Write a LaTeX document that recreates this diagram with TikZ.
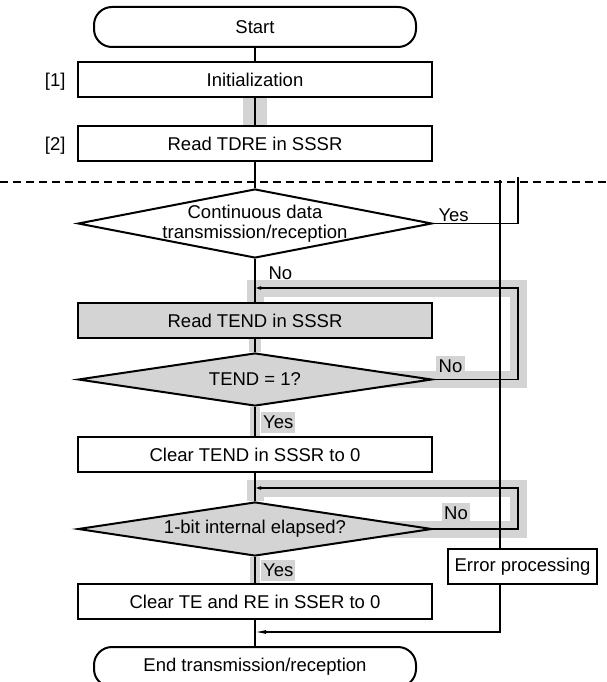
\documentclass[tikz,border=0pt]{standalone}
\usepackage{fontspec}
\setmainfont{Liberation Sans}
\usetikzlibrary{arrows.meta, shapes.geometric, backgrounds}
\definecolor{hilite}{HTML}{D4D4D4}

\begin{document}
\begin{tikzpicture}[x=1pt, y=-1pt,
  every node/.style={font=\fontsize{18.5}{20}\selectfont},
  term/.style={draw, line width=2pt, rounded corners=18pt, minimum width=322pt, minimum height=40pt},
  proc/.style={draw, line width=2pt, minimum width=354pt, minimum height=35pt},
  decide/.style={draw, line width=2pt, diamond, minimum width=354pt, minimum height=#1},
  flow/.style={line width=1.2pt},
  back/.style={line width=1.2pt, -{Latex[length=6pt, width=4pt]}},
  tag/.style={fill=hilite, inner sep=1pt, minimum height=20pt},
  band/.style={draw=hilite, line width=17pt}]
\useasboundingbox (0,0) rectangle (606,682);

\node[term] (start) at (255,27) {Start};
\node[proc] (init) at (255,79.5) {Initialization};
\node[proc] (tdre) at (255,143.5) {Read TDRE in SSSR};
\node[anchor=base east] (n1) at ([xshift=-8pt]init.base west) {[1]};
\node[anchor=base east] (n2) at ([xshift=-8pt]tdre.base west) {[2]};

\node[decide=69pt] (cont) at (255,223.5) {};
\node[align=center] (conttext) at (cont) {Continuous data\\transmission/reception};
\node[proc, fill=hilite] (rtend) at (255,320.5) {Read TEND in SSSR};
\node[decide=53pt, fill=hilite] (tend) at (255,379.5) {};
\node (tendtext) at (tend) {TEND = 1?};
\node[proc] (clrtend) at (255,454.5) {Clear TEND in SSSR to 0};
\node[decide=54pt, fill=hilite] (bit) at (255,529) {};
\node (bittext) at (bit) {1-bit internal elapsed?};
\node[proc] (clrte) at (255,601.5) {Clear TE and RE in SSER to 0};
\node[term] (stop) at (255,667) {End transmission/reception};
\node[proc, minimum width=149pt] (err) at (522.5,566.5) {Error processing};

\node[anchor=base west] (yes0) at (435,221) {Yes};
\node[anchor=base west] (no0) at (265,279) {No};
\node[tag, minimum width=29pt] (no1) at (450.5,366) {No};
\node[tag, minimum width=28pt] (no2) at (456,513) {No};
\node[tag, anchor=west, minimum width=34pt, minimum height=21pt] (yes1) at (261,422.5) {Yes};
\node[tag, anchor=west, minimum width=34pt, minimum height=21pt] (yes2) at (261,570) {Yes};

\coordinate (loop1) at (518,288);
\coordinate (loop2) at (518,488);
\coordinate (yesend) at (518,177);
\coordinate (errtop) at (500,180);
\coordinate (retbk) at (500,632);

\begin{scope}[on background layer]
\draw[band, line width=24pt] (init.south) -- (tdre.north);
\draw[band] (tend.center) -| (loop1) -- (rtend.north |- loop1) -- (rtend.north);
\draw[band, line width=12pt] (rtend.south) -- (tend.north);
\draw[band, line width=10pt] (tend.south) -- (clrtend.north);
\draw[band] (bit.center) -| (loop2) -- (clrtend.south |- loop2) -- (bit.north);
\draw[band, line width=10pt] (bit.south) -- (clrte.north);
\end{scope}

\draw[line width=2pt, dash pattern=on 8pt off 5pt] (0,182) -- (606,182);

\draw[flow] (start) -- (init);
\draw[flow] (init) -- (tdre);
\draw[flow] (tdre) -- (cont);
\draw[flow] (cont) -- (rtend);
\draw[flow] (rtend) -- (tend);
\draw[flow] (tend) -- (clrtend);
\draw[flow] (clrtend) -- (bit);
\draw[flow] (bit) -- (clrte);
\draw[flow] (clrte) -- (stop);

\draw[flow] (cont.east) -| (yesend);
\draw[back] (tend.east) -| (loop1) -- (rtend.north |- loop1);
\draw[back] (bit.east) -| (loop2) -- (clrtend.south |- loop2);
\draw[flow] (errtop) -- (errtop |- err.north);
\draw[flow, -{Latex[length=11pt, width=4pt]}] (errtop |- err.south) -- (retbk) -- (clrte.south |- retbk);
\end{tikzpicture}
\end{document}
